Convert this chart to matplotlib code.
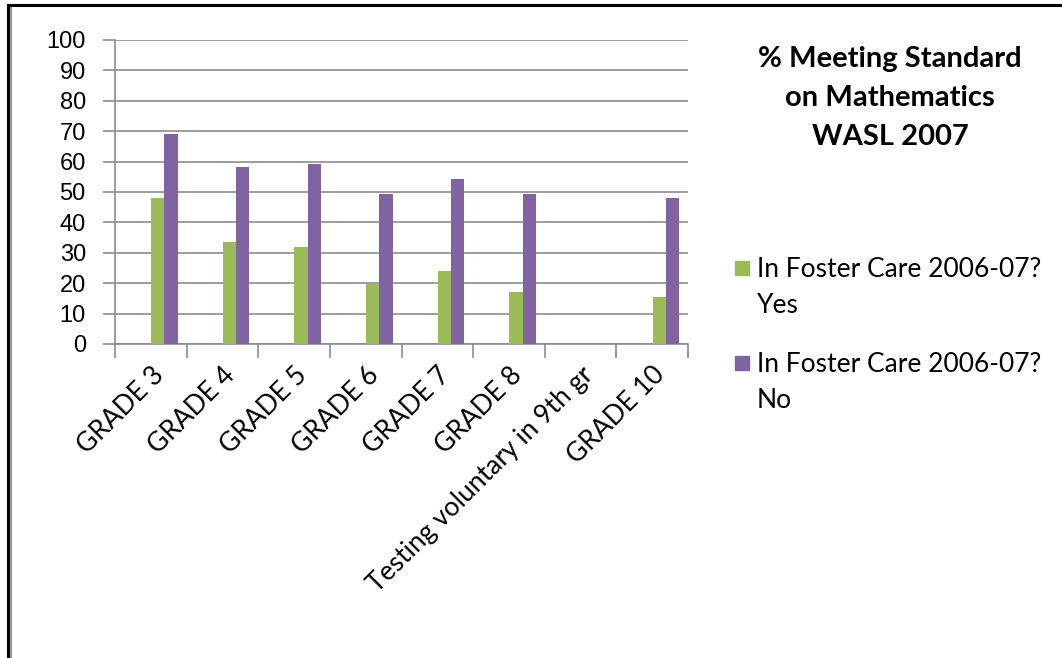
import numpy as np
import matplotlib
matplotlib.use("Agg")
import matplotlib.pyplot as plt
from matplotlib.patches import Rectangle
from matplotlib.lines import Line2D

categories = ["GRADE 3", "GRADE 4", "GRADE 5", "GRADE 6", "GRADE 7", "GRADE 8",
              "Testing voluntary in 9th gr", "GRADE 10"]
yes_vals = [48.0, 33.6, 31.8, 19.8, 24.0, 17.2, np.nan, 15.4]
no_vals = [69.1, 58.1, 59.2, 49.5, 54.2, 49.5, np.nan, 48.1]
series_names = ["In Foster Care 2006-07?\nYes", "In Foster Care 2006-07?\nNo"]
colors = ["#9BBB59", "#8064A2"]
title = "% Meeting Standard\non Mathematics\nWASL 2007"

cal = ["Lato", "Open Sans", "DejaVu Sans"]
narrow = ["Liberation Sans Narrow", "Liberation Sans", "DejaVu Sans"]

fig = plt.figure(figsize=(10.62, 6.58), dpi=100)
ax = fig.add_axes([115/1062, 1 - 344/658, 573/1062, 304/658])

x = np.arange(len(categories))
w = 0.185
ax.bar(x + 0.505, yes_vals, w, align="edge", color=colors[0], zorder=3)
ax.bar(x + 0.505 + w, no_vals, w, align="edge", color=colors[1], zorder=3)

ax.set_xlim(0, len(categories))
ax.set_ylim(0, 100)
ax.set_yticks(range(0, 101, 10))
ax.yaxis.grid(True, color="#8c8c8c", linewidth=1.2, zorder=0)
for s in ["top", "right"]:
    ax.spines[s].set_visible(False)
for s in ["left", "bottom"]:
    ax.spines[s].set_color("#8c8c8c")
    ax.spines[s].set_linewidth(1.2)

ax.set_xticks(np.arange(0, len(categories) + 1), minor=True)
ax.set_xticks(x + 0.5)
ax.tick_params(axis="x", which="major", length=0, pad=13)
ax.tick_params(axis="x", which="minor", length=10, color="#8c8c8c", width=1.2)
ax.tick_params(axis="y", length=9, color="#8c8c8c", width=1.2, pad=12)
ax.set_xticklabels(categories, rotation=45, ha="right", rotation_mode="anchor",
                   fontsize=19, family=cal)
for lab in ax.get_yticklabels():
    lab.set_family(narrow)
    lab.set_fontsize(17)

# title block
fig.text(890/1062, 1 - 46/658, title, ha="center", va="top", fontsize=21,
         fontweight="bold", family=cal, linespacing=1.62)

# legend drawn by hand
for i, (name, c) in enumerate(zip(series_names, colors)):
    yt = 257 + i * 95
    fig.add_artist(Rectangle((735/1062, 1 - (yt + 18)/658), 14/1062, 14/658,
                             transform=fig.transFigure, color=c))
    fig.text(757/1062, 1 - yt/658, name, ha="left", va="top", fontsize=19,
             family=cal, linespacing=1.55)

# outer frame
fig.add_artist(Line2D([8/1062, 8/1062], [0, 1 - 5/658], transform=fig.transFigure,
                      color="black", linewidth=2.2))
fig.add_artist(Line2D([11/1062, 11/1062], [0, 1 - 8/658], transform=fig.transFigure,
                      color="#999999", linewidth=1.5))
fig.add_artist(Line2D([8/1062, 1], [1 - 5/658, 1 - 5/658], transform=fig.transFigure,
                      color="black", linewidth=2.2))

fig.savefig("out.png", dpi=100)
